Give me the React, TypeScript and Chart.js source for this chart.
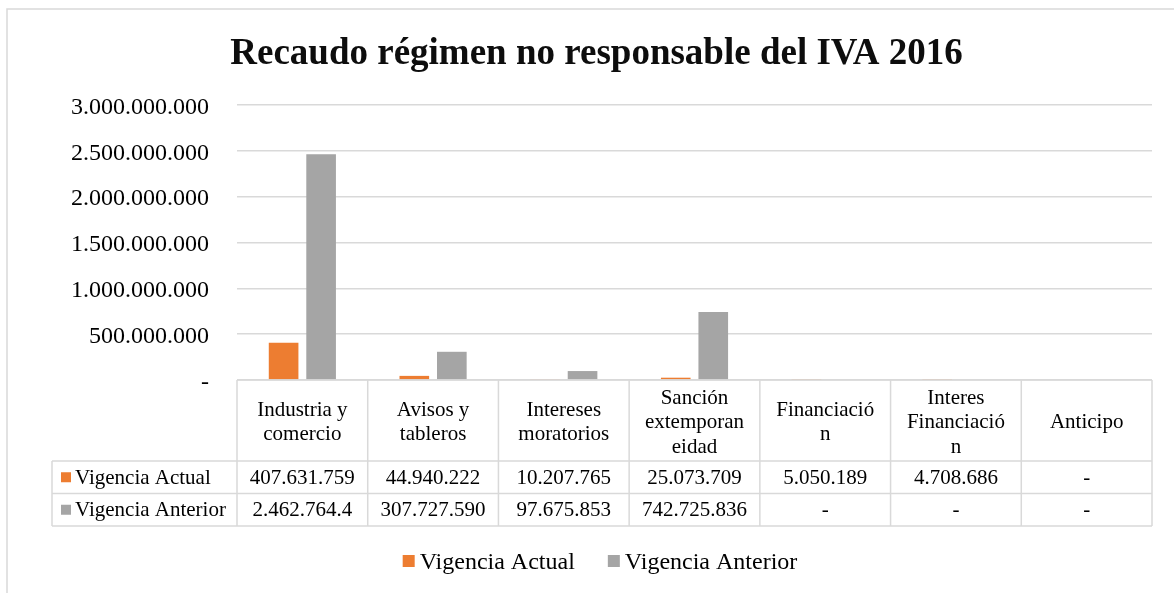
import React, { useEffect, useRef } from "react";
import { Chart, registerables } from "chart.js";

Chart.register(...registerables);

// ---------- data ----------
const titleText = "Recaudo régimen no responsable del IVA 2016";
const categories = [
  "Industria y comercio",
  "Avisos y tableros",
  "Intereses moratorios",
  "Sanción extemporaneidad",
  "Financiación",
  "Interes Financiación",
  "Anticipo",
];
const seriesNames = ["Vigencia Actual", "Vigencia Anterior"];
const vigenciaActual = [407631759, 44940222, 10207765, 25073709, 5050189, 4708686, 0];
const vigenciaAnterior = [2462764400, 307727590, 97675853, 742725836, 0, 0, 0];
const seriesColors = ["#ED7D31", "#A5A5A5"];
const yMin = 0;
const yMax = 3000000000;
const yStep = 500000000;

// ---------- helpers ----------
const SERIF = "'Liberation Serif', 'Times New Roman', serif";
const TEXT = "#000000";
const LINE = "#D9D9D9";

function fmt(v: number): string {
  if (!v) return "-";
  return Math.round(v)
    .toString()
    .replace(/\B(?=(\d{3})+(?!\d))/g, ".");
}

function wrapText(ctx: CanvasRenderingContext2D, text: string, maxW: number): string[] {
  const words = text.split(" ");
  const lines: string[] = [];
  let cur = "";
  for (const w of words) {
    const test = cur ? cur + " " + w : w;
    if (ctx.measureText(test).width <= maxW) {
      cur = test;
      continue;
    }
    if (cur) {
      lines.push(cur);
      cur = "";
    }
    let word = w;
    while (ctx.measureText(word).width > maxW && word.length > 1) {
      let i = word.length;
      while (i > 1 && ctx.measureText(word.slice(0, i)).width > maxW) i--;
      lines.push(word.slice(0, i));
      word = word.slice(i);
    }
    cur = word;
  }
  if (cur) lines.push(cur);
  return lines;
}

function truncate(ctx: CanvasRenderingContext2D, text: string, maxW: number): string {
  let t = text;
  while (t.length > 1 && ctx.measureText(t).width > maxW) t = t.slice(0, -1);
  return t;
}

function hline(ctx: CanvasRenderingContext2D, x1: number, x2: number, y: number) {
  ctx.beginPath();
  ctx.moveTo(x1, y);
  ctx.lineTo(x2, y);
  ctx.stroke();
}
function vline(ctx: CanvasRenderingContext2D, x: number, y1: number, y2: number) {
  ctx.beginPath();
  ctx.moveTo(x, y1);
  ctx.lineTo(x, y2);
  ctx.stroke();
}

// frame around the whole chart object
const framePlugin = {
  id: "frame",
  beforeDraw(chart: any) {
    const ctx = chart.ctx as CanvasRenderingContext2D;
    ctx.save();
    ctx.fillStyle = "#FFFFFF";
    ctx.fillRect(0, 0, chart.width, chart.height);
    ctx.strokeStyle = LINE;
    ctx.lineWidth = 1.5;
    ctx.strokeRect(7, 9, chart.width + 10, chart.height + 10);
    ctx.restore();
  },
};

// data table below the plot (x axis area)
const tablePlugin = {
  id: "dataTable",
  afterDraw(chart: any) {
    const ctx = chart.ctx as CanvasRenderingContext2D;
    const area = chart.chartArea;
    const xs = chart.scales.x;
    const n = chart.data.labels.length;
    const top = area.bottom;
    const headerH = 81;
    const rowH = 32.5;
    const tableLeft = 52;
    const r1 = top + headerH;
    const r2 = r1 + rowH;
    const bottom = r2 + rowH;
    const colW = (area.right - area.left) / n;
    const wrapW = colW - 28;
    const valueW = colW - 22;

    ctx.save();
    ctx.strokeStyle = LINE;
    ctx.lineWidth = 1.5;
    hline(ctx, area.left, area.right, top);
    hline(ctx, tableLeft, area.right, r1);
    hline(ctx, tableLeft, area.right, r2);
    hline(ctx, tableLeft, area.right, bottom);
    vline(ctx, tableLeft, r1, bottom);
    for (let i = 0; i <= n; i++) {
      const xb = xs.getPixelForValue(i - 0.5);
      vline(ctx, xb, top, bottom);
    }

    ctx.fillStyle = TEXT;
    ctx.font = `21px ${SERIF}`;
    ctx.textAlign = "center";
    ctx.textBaseline = "middle";
    const lh = 24.5;
    for (let i = 0; i < n; i++) {
      const cx = xs.getPixelForValue(i);
      const lines = wrapText(ctx, String(chart.data.labels[i]), wrapW);
      const cy = top + headerH / 2 + 2;
      lines.forEach((ln, j) => {
        ctx.fillText(ln, cx, cy + (j - (lines.length - 1) / 2) * lh);
      });
      chart.data.datasets.forEach((ds: any, k: number) => {
        const y = (k === 0 ? r1 : r2) + rowH / 2 + 1;
        ctx.fillText(truncate(ctx, fmt(ds.data[i]), valueW), cx, y);
      });
    }
    // row labels with keys
    ctx.textAlign = "left";
    chart.data.datasets.forEach((ds: any, k: number) => {
      const y = (k === 0 ? r1 : r2) + rowH / 2;
      ctx.fillStyle = ds.backgroundColor;
      ctx.fillRect(tableLeft + 9, y - 5, 10, 10);
      ctx.fillStyle = TEXT;
      ctx.fillText(ds.label, tableLeft + 23, y + 1);
    });
    ctx.restore();
  },
};

// legend at the bottom
const legendPlugin = {
  id: "bottomLegend",
  afterDraw(chart: any) {
    const ctx = chart.ctx as CanvasRenderingContext2D;
    ctx.save();
    ctx.font = `24px ${SERIF}`;
    ctx.textBaseline = "alphabetic";
    ctx.textAlign = "left";
    const box = 12;
    const gap = 5;
    const itemGap = 33;
    const items = chart.data.datasets.map((ds: any) => ({
      label: ds.label,
      color: ds.backgroundColor,
      w: box + gap + ctx.measureText(ds.label).width,
    }));
    const total = items.reduce((s: number, it: any) => s + it.w, 0) + itemGap * (items.length - 1);
    let x = 600 - total / 2;
    const baseline = 569;
    items.forEach((it: any) => {
      ctx.fillStyle = it.color;
      ctx.fillRect(x, baseline - 14, box, box);
      ctx.fillStyle = TEXT;
      ctx.fillText(it.label, x + box + gap, baseline);
      x += it.w + itemGap;
    });
    ctx.restore();
  },
};

export default function App() {
  const canvasRef = useRef<HTMLCanvasElement | null>(null);

  useEffect(() => {
    const canvas = canvasRef.current;
    if (!canvas) return;
    const chart = new Chart(canvas, {
      type: "bar",
      data: {
        labels: categories,
        datasets: [
          {
            label: seriesNames[0],
            data: vigenciaActual,
            backgroundColor: seriesColors[0],
            categoryPercentage: 0.574,
            barPercentage: 0.79,
          },
          {
            label: seriesNames[1],
            data: vigenciaAnterior,
            backgroundColor: seriesColors[1],
            categoryPercentage: 0.574,
            barPercentage: 0.79,
          },
        ],
      },
      options: {
        responsive: false,
        animation: false,
        layout: { padding: { left: 41, right: 22, top: 28, bottom: 67 } },
        plugins: {
          title: {
            display: true,
            text: titleText,
            color: "#0D0D0D",
            font: { family: SERIF, size: 37, weight: "bold", lineHeight: 1.2 },
            padding: { top: 4, bottom: 28.6 },
          },
          legend: { display: false },
          tooltip: { enabled: false },
        },
        scales: {
          x: {
            ticks: { display: false },
            grid: { display: false },
            border: { display: false },
            afterFit: (s: any) => {
              s.height = 146;
            },
          },
          y: {
            min: yMin,
            max: yMax,
            ticks: {
              stepSize: yStep,
              padding: 28,
              labelOffset: 2.5,
              color: TEXT,
              font: { family: SERIF, size: 24 },
              callback: (v: any) => fmt(Number(v)),
            },
            grid: { color: LINE, lineWidth: 1.5, drawTicks: false },
            border: { display: false },
            afterFit: (s: any) => {
              s.width = 196;
            },
          },
        },
      },
      plugins: [framePlugin, tablePlugin, legendPlugin],
    } as any);
    return () => chart.destroy();
  }, []);

  return (
    <div style={{ position: "fixed", left: 0, top: 0, width: 1174, height: 593, background: "#fff" }}>
      <canvas ref={canvasRef} width={1174} height={593} style={{ display: "block" }} />
    </div>
  );
}
